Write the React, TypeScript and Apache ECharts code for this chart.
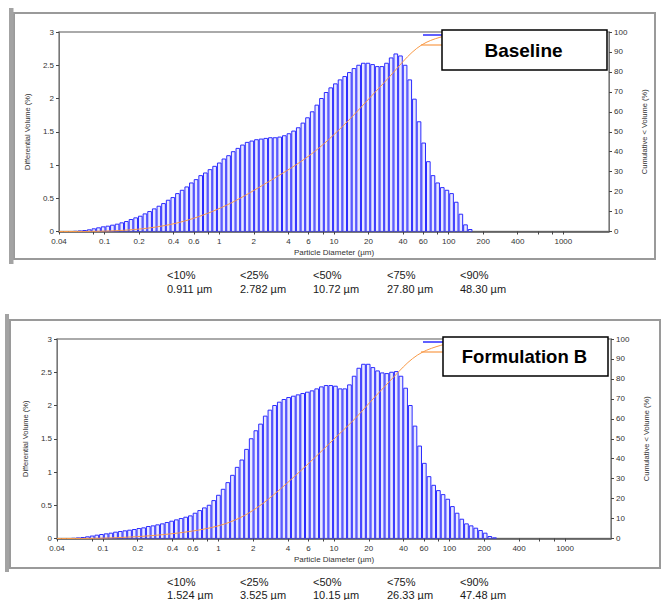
import React, { useEffect, useRef } from 'react';
import * as echarts from 'echarts';

// Instrument size classes (log-spaced channels, 0.04 – 2000 µm)
const CHANNEL_COUNT = 116;
const D_MIN = 0.04;
const D_MAX = 2000;
const AXIS_MAX = 2500;

// Differential volume (%) per channel
const baselineVolume = [
  0, 0, 0, 0.003, 0.008, 0.015, 0.025, 0.04, 0.055, 0.07,
  0.08, 0.095, 0.11, 0.13, 0.15, 0.18, 0.205, 0.23, 0.265, 0.30,
  0.34, 0.38, 0.42, 0.47, 0.51, 0.57, 0.62, 0.67, 0.73, 0.78,
  0.84, 0.88, 0.93, 0.98, 1.03, 1.09, 1.14, 1.20, 1.25, 1.30,
  1.34, 1.36, 1.38, 1.39, 1.40, 1.41, 1.41, 1.42, 1.44, 1.47,
  1.51, 1.56, 1.63, 1.71, 1.80, 1.90, 2.00, 2.09, 2.16, 2.22,
  2.28, 2.33, 2.39, 2.45, 2.50, 2.53, 2.53, 2.51, 2.48, 2.48,
  2.53, 2.61, 2.67, 2.64, 2.50, 2.28, 1.99, 1.65, 1.33, 1.05,
  0.84, 0.73, 0.66, 0.62, 0.57, 0.44, 0.26, 0.10, 0.03,
];

const formulationBVolume = [
  0, 0, 0, 0.003, 0.008, 0.015, 0.025, 0.037, 0.05, 0.06,
  0.07, 0.08, 0.095, 0.105, 0.115, 0.125, 0.135, 0.15, 0.16, 0.18,
  0.19, 0.205, 0.22, 0.24, 0.26, 0.28, 0.30, 0.32, 0.34, 0.38,
  0.42, 0.46, 0.50, 0.57, 0.65, 0.74, 0.84, 0.95, 1.07, 1.18,
  1.34, 1.50, 1.62, 1.72, 1.84, 1.93, 2.00, 2.05, 2.09, 2.12,
  2.14, 2.16, 2.18, 2.20, 2.22, 2.25, 2.28, 2.30, 2.30, 2.29,
  2.25, 2.25, 2.31, 2.44, 2.56, 2.62, 2.62, 2.57, 2.52, 2.49,
  2.48, 2.50, 2.51, 2.44, 2.26, 2.00, 1.69, 1.39, 1.13, 0.93,
  0.80, 0.72, 0.66, 0.59, 0.48, 0.38, 0.29, 0.22, 0.19, 0.155,
  0.12, 0.08, 0.03, 0.01,
];

const xLabelTicks = [0.04, 0.1, 0.2, 0.4, 0.6, 1, 2, 4, 6, 10, 20, 40, 60, 100, 200, 400, 1000];
const xMinorTicks = [0.08, 0.8, 8, 80, 600, 800];

const statLabels = ['<10%', '<25%', '<50%', '<75%', '<90%'];
const baselineStats = ['0.911 µm', '2.782 µm', '10.72 µm', '27.80 µm', '48.30 µm'];
const formulationBStats = ['1.524 µm', '3.525 µm', '10.15 µm', '26.33 µm', '47.48 µm'];

const titles = ['Baseline', 'Formulation B'];

const FONT = 'Liberation Sans, Arial, sans-serif';
const BAR_STROKE = '#2b2bff';
const BAR_FILL = 'rgba(215,215,255,0.55)';
const CUM_COLOR = '#f89a48';

const edges = Array.from({ length: CHANNEL_COUNT + 1 }, (_, i) =>
  D_MIN * Math.pow(D_MAX / D_MIN, i / CHANNEL_COUNT)
);

const barData = (vals: number[]) =>
  vals
    .map((v, i) => [Math.log10(edges[i]), Math.log10(edges[i + 1]), v])
    .filter((d) => d[2] > 0);

const cumData = (vals: number[]) => {
  const total = vals.reduce((a, b) => a + b, 0);
  let run = 0;
  const pts: number[][] = [[Math.log10(edges[0]), 0]];
  vals.forEach((v, i) => {
    run += v;
    pts.push([Math.log10(edges[i + 1]), (run / total) * 100]);
  });
  return pts;
};

const fmtX = (v: number) => String(parseFloat(Math.pow(10, v).toPrecision(2)));

const makeXAxis = (gridIndex: number) => ({
  type: 'value',
  gridIndex,
  min: Math.log10(D_MIN),
  max: Math.log10(AXIS_MAX),
  name: 'Particle Diameter (µm)',
  nameLocation: 'middle',
  nameGap: 17,
  nameTextStyle: { fontSize: 8, color: '#333', fontFamily: FONT },
  axisLine: { show: true, onZero: false, lineStyle: { color: '#555', width: 1.5 } },
  axisTick: {
    show: true,
    length: 3,
    customValues: [...xLabelTicks, ...xMinorTicks].map(Math.log10),
    lineStyle: { color: '#444' },
  },
  axisLabel: {
    customValues: xLabelTicks.map(Math.log10),
    formatter: fmtX,
    fontSize: 8,
    color: '#333',
    margin: 6,
    fontFamily: FONT,
  },
  splitLine: { show: false },
});

const makeLeftY = (gridIndex: number) => ({
  type: 'value',
  gridIndex,
  min: 0,
  max: 3,
  interval: 0.5,
  position: 'left',
  name: 'Differential Volume (%)',
  nameLocation: 'middle',
  nameRotate: 90,
  nameGap: 27,
  nameTextStyle: { fontSize: 7.5, color: '#333', fontFamily: FONT },
  axisLine: { show: true, onZero: false, lineStyle: { color: '#777', width: 1 } },
  axisTick: { show: true, length: 3, lineStyle: { color: '#444' } },
  axisLabel: { fontSize: 8, color: '#333', margin: 5, fontFamily: FONT },
  splitLine: { show: false },
});

const makeRightY = (gridIndex: number) => ({
  type: 'value',
  gridIndex,
  min: 0,
  max: 100,
  interval: 10,
  position: 'right',
  name: 'Cumulative < Volume (%)',
  nameLocation: 'middle',
  nameRotate: 90,
  nameGap: 31,
  nameTextStyle: { fontSize: 7.5, color: '#333', fontFamily: FONT },
  axisLine: { show: true, onZero: false, lineStyle: { color: '#777', width: 1 } },
  axisTick: { show: true, length: 3, lineStyle: { color: '#444' } },
  axisLabel: { fontSize: 8, color: '#333', margin: 5, fontFamily: FONT },
  splitLine: { show: false },
});

const renderBar = (params: any, api: any) => {
  const a = api.coord([api.value(0), api.value(2)]);
  const b = api.coord([api.value(1), 0]);
  const w = Math.max(b[0] - a[0] - 1, 0.5);
  return {
    type: 'rect',
    shape: { x: a[0] + 0.5, y: a[1], width: w, height: b[1] - a[1] },
    style: { fill: BAR_FILL, stroke: BAR_STROKE, lineWidth: 1 },
  };
};

const makeSeries = (vals: number[], idx: number) => [
  {
    type: 'custom',
    xAxisIndex: idx,
    yAxisIndex: idx * 2,
    renderItem: renderBar,
    encode: { x: [0, 1], y: 2 },
    data: barData(vals),
    clip: true,
    silent: true,
  },
  {
    type: 'line',
    xAxisIndex: idx,
    yAxisIndex: idx * 2 + 1,
    data: cumData(vals),
    showSymbol: false,
    symbol: 'none',
    lineStyle: { color: CUM_COLOR, width: 1 },
    silent: true,
  },
];

// Layout of the two panels (pixel geometry)
const panels = [
  { gridTop: 32, gridLeft: 59, gridRight: 53, frame: [14, 13, 641, 246], bar: [9, 8, 4.5, 256], box: [442, 30, 165, 40], legY: [35, 45], statY: [275, 288.5], stats: baselineStats, titleWeight: 'bold', titleSize: 19 },
  { gridTop: 339, gridLeft: 57, gridRight: 51, frame: [10, 320, 650, 248], bar: [5, 314, 4, 258], box: [443, 337, 165, 39], legY: [342, 352], statY: [582, 595], stats: formulationBStats, titleWeight: 'bold', titleSize: 18.5 },
];
const statX = [167, 240, 313, 387, 460];

const graphics: any[] = [];
panels.forEach((p, i) => {
  graphics.push({
    type: 'rect', z: -10, silent: true,
    shape: { x: p.frame[0], y: p.frame[1], width: p.frame[2], height: p.frame[3] },
    style: { fill: 'none', stroke: '#9a9a9a', lineWidth: 2 },
  });
  graphics.push({
    type: 'rect', z: -10, silent: true,
    shape: { x: p.bar[0], y: p.bar[1], width: p.bar[2], height: p.bar[3] },
    style: { fill: '#a3a3a3' },
  });
  // partially hidden legend samples
  graphics.push({
    type: 'line', z: 90, silent: true,
    shape: { x1: 423, y1: p.legY[0], x2: 443, y2: p.legY[0] },
    style: { stroke: BAR_STROKE, lineWidth: 1.5 },
  });
  graphics.push({
    type: 'line', z: 90, silent: true,
    shape: { x1: 421, y1: p.legY[1], x2: 443, y2: p.legY[1] },
    style: { stroke: CUM_COLOR, lineWidth: 1.2 },
  });
  graphics.push({
    type: 'rect', z: 100, silent: true,
    shape: { x: p.box[0], y: p.box[1], width: p.box[2], height: p.box[3] },
    style: { fill: '#ffffff', stroke: '#000000', lineWidth: 1.5 },
  });
  graphics.push({
    type: 'text', z: 101, silent: true,
    x: p.box[0] + p.box[2] / 2 - 1, y: p.box[1] + p.box[3] / 2,
    style: {
      text: titles[i], fontSize: p.titleSize, fontWeight: p.titleWeight, fontFamily: FONT,
      fill: '#000', align: 'center', verticalAlign: 'middle',
    },
  });
  statLabels.forEach((lab, k) => {
    graphics.push({
      type: 'text', z: 101, silent: true, x: statX[k], y: p.statY[0],
      style: { text: lab, fontSize: 11, fontFamily: FONT, fill: '#1a1a1a', align: 'left', verticalAlign: 'middle' },
    });
    graphics.push({
      type: 'text', z: 101, silent: true, x: statX[k], y: p.statY[1],
      style: { text: p.stats[k], fontSize: 11, fontFamily: FONT, fill: '#1a1a1a', align: 'left', verticalAlign: 'middle' },
    });
  });
});

const option: any = {
  animation: false,
  backgroundColor: '#ffffff',
  textStyle: { fontFamily: FONT },
  grid: panels.map((p) => ({
    left: p.gridLeft,
    right: p.gridRight,
    top: p.gridTop,
    height: 199.5,
    show: true,
    borderColor: '#8f8f8f',
    borderWidth: 1.5,
    backgroundColor: 'transparent',
  })),
  xAxis: [makeXAxis(0), makeXAxis(1)],
  yAxis: [makeLeftY(0), makeRightY(0), makeLeftY(1), makeRightY(1)],
  series: [...makeSeries(baselineVolume, 0), ...makeSeries(formulationBVolume, 1)],
  graphic: graphics,
};

export default function App() {
  const ref = useRef<HTMLDivElement>(null);
  useEffect(() => {
    document.body.style.margin = '0';
    const chart = echarts.init(ref.current as HTMLDivElement, null, { renderer: 'svg' });
    chart.setOption(option);
    return () => chart.dispose();
  }, []);
  return (
    <div
      ref={ref}
      style={{ position: 'absolute', left: 0, top: 0, width: 662, height: 600 }}
    />
  );
}
